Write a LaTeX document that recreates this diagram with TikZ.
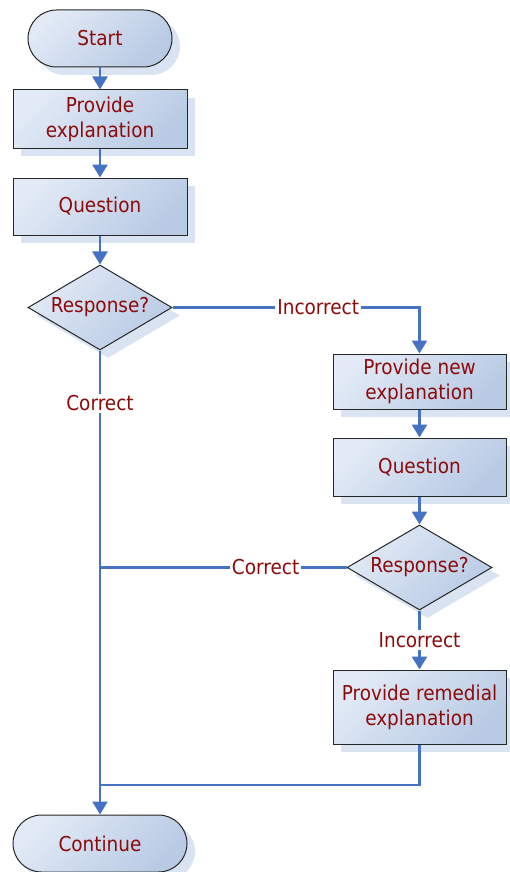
\documentclass[tikz,border=0pt]{standalone}
\usepackage{fontspec}
\setmainfont{DejaVu Sans}[FakeStretch=0.9]
\usetikzlibrary{shapes.geometric,shapes.misc,shadows,arrows.meta}

\definecolor{flowline}{RGB}{70,114,196}
\definecolor{labelred}{RGB}{140,10,10}
\definecolor{fillhi}{RGB}{226,234,246}
\definecolor{filllo}{RGB}{184,202,228}
\definecolor{shadowc}{RGB}{217,227,241}

\tikzset{
  txt/.style={text=labelred, font=\fontsize{20.5}{25}\selectfont},
  base/.style={txt, draw=black!85, line width=1pt,
    top color=fillhi, bottom color=filllo, shading angle=45,
    align=center, inner sep=0pt,
    drop shadow={shadow xshift=8pt, shadow yshift=-8pt, fill=shadowc, opacity=1}},
  terminal/.style={base, rounded rectangle, minimum height=57pt},
  procbox/.style={base, rectangle, minimum width=173pt},
  decision/.style={base, diamond, minimum width=144pt, minimum height=85pt, shape aspect=1.7},
  line/.style={draw=flowline, line width=2.5pt},
  flow/.style={line, -{Triangle[width=15pt,length=13pt]}},
  lbl/.style={txt, fill=white, inner sep=2pt},
}

\begin{document}
\begin{tikzpicture}[x=1pt, y=-1pt]
  \useasboundingbox (0,0) rectangle (510,872);

  % shapes
  \node[terminal, minimum width=144pt] (start) at (100,38.5) {Start};
  \node[procbox, minimum width=174pt, minimum height=58pt] (expl) at (100,119) {Provide\\explanation};
  \node[procbox, minimum width=174pt, minimum height=57pt] (q1) at (100,206.5) {Question};
  \node[decision] (d1) at (100,307.5) {Response?};
  \node[procbox, minimum height=55pt] (nexpl) at (419.5,381.5) {Provide new\\explanation};
  \node[procbox, minimum height=58pt] (q2) at (419.5,467) {Question};
  \node[decision, minimum width=145pt] (d2) at (419.5,567.5) {Response?};
  \node[procbox, minimum height=74pt] (rem) at (419.5,707) {Provide remedial\\explanation};
  \node[terminal, minimum width=174pt] (cont) at (100,843.5) {Continue};

  % connectors
  \draw[flow] (start) -- (expl);
  \draw[flow] (expl) -- (q1);
  \draw[flow] (q1) -- (d1);
  \draw[flow] (d1.east) -| node[lbl, pos=0.295] {Incorrect} (nexpl.north);
  \draw[flow] (nexpl) -- (q2);
  \draw[flow] (q2) -- (d2);
  \draw[flow] (d2.south) -- node[lbl] {Incorrect} (rem.north);
  \draw[flow] (d1.south) -- node[lbl, pos=0.114] {Correct} (cont.north);

  \coordinate (j1) at (d1.south |- d2.west);
  \draw[line] (d2.west) -- node[lbl, pos=0.328] {Correct} (j1);

  \coordinate (j2) at (cont.north |- 0,785);
  \draw[line] (rem.south) |- (j2);
\end{tikzpicture}
\end{document}
